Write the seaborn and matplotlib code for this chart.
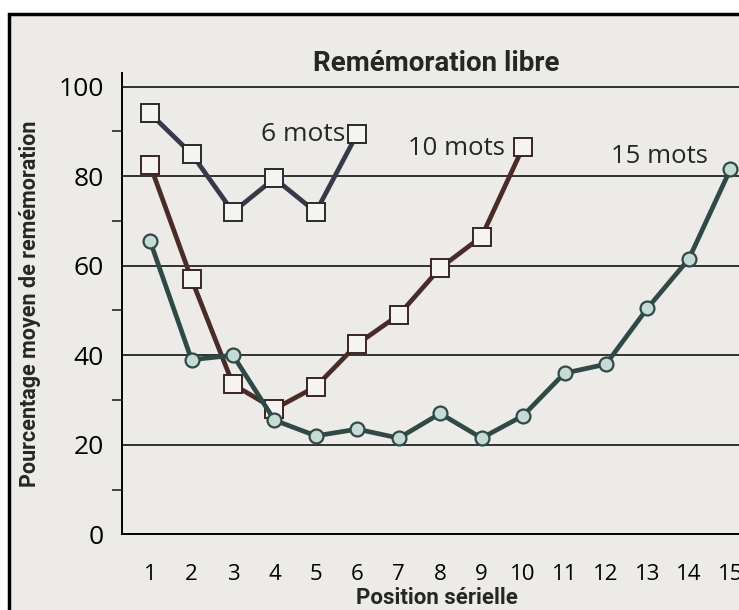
import matplotlib.pyplot as plt
import matplotlib.patches as mpatches
import pandas as pd
import seaborn as sns

# Data (free recall, serial position)
positions_6 = [1, 2, 3, 4, 5, 6]
rappel_6 = [94, 85, 72, 79.5, 72, 89.5]
positions_10 = [1, 2, 3, 4, 5, 6, 7, 8, 9, 10]
rappel_10 = [82.5, 57, 33.5, 28, 33, 42.5, 49, 59.5, 66.5, 86.5]
positions_15 = [1, 2, 3, 4, 5, 6, 7, 8, 9, 10, 11, 12, 13, 14, 15]
rappel_15 = [65.5, 39, 40, 25.5, 22, 23.5, 21.5, 27, 21.5, 26.5, 36, 38, 50.5, 61.5, 81.5]
series_labels = ['6 mots', '10 mots', '15 mots']
x_ticks = list(range(1, 16))
y_ticks = [0, 20, 40, 60, 80, 100]

df = pd.concat([
    pd.DataFrame({'position': positions_6, 'rappel': rappel_6, 'liste': series_labels[0]}),
    pd.DataFrame({'position': positions_10, 'rappel': rappel_10, 'liste': series_labels[1]}),
    pd.DataFrame({'position': positions_15, 'rappel': rappel_15, 'liste': series_labels[2]}),
])

sns.set_style('white')
plt.rcParams['font.family'] = ['Open Sans', 'DejaVu Sans']
bold_font = ['Roboto', 'DejaVu Sans']

fig = plt.figure(figsize=(7.39, 6.10), dpi=100)
fig.patch.set_facecolor('white')
# paper background with black frame (top / left)
fig.patches.append(mpatches.Rectangle((0.0122, -0.02), 1.05, 0.997, transform=fig.transFigure,
                                      facecolor='#ecebe8', edgecolor='black', linewidth=2.5, zorder=-10))

ax = fig.add_axes([0.165, 0.124, 0.84, 0.756])
ax.set_facecolor('none')

styles = {
    '6 mots': dict(color='#363a48', marker='s', markersize=12.5, markerfacecolor='#f5f4f1',
                   markeredgecolor='#2a2a2e', markeredgewidth=1.4),
    '10 mots': dict(color='#4a2b2a', marker='s', markersize=12.5, markerfacecolor='#f5f4f1',
                    markeredgecolor='#3a2424', markeredgewidth=1.4),
    '15 mots': dict(color='#2f4a46', marker='o', markersize=10, markerfacecolor='#c6dbd5',
                    markeredgecolor='#2f4a46', markeredgewidth=1.6),
}
for lab in series_labels:
    sns.lineplot(data=df[df['liste'] == lab], x='position', y='rappel', ax=ax,
                 linewidth=3.4, legend=False, zorder=3, **styles[lab])

# series labels
ax.text(5.72, 89.3, '6 mots', ha='right', va='center', fontsize=19)
ax.text(9.56, 86.2, '10 mots', ha='right', va='center', fontsize=18.5)
ax.text(14.45, 84.3, '15 mots', ha='right', va='center', fontsize=18.5)

ax.set_xlim(0.32, 15.3)
ax.set_ylim(0, 103)
ax.set_xticks(x_ticks)
ax.set_yticks(y_ticks)
ax.set_yticks([10, 30, 50, 70, 90], minor=True)
ax.yaxis.grid(True, which='major', color='black', linewidth=1.1)
ax.set_axisbelow(True)

for s in ['top', 'right']:
    ax.spines[s].set_visible(False)
for s in ['left', 'bottom']:
    ax.spines[s].set_color('black')
    ax.spines[s].set_linewidth(1.4)

ax.tick_params(axis='x', direction='in', length=8, width=1.2, pad=21, labelsize=16, colors='black')
ax.tick_params(axis='y', which='major', direction='out', length=10, width=1.2, pad=3, labelsize=19, colors='black')
ax.tick_params(axis='y', which='minor', direction='out', length=7, width=1.2, left=True)

ax.set_xlabel('Position sérielle', fontsize=16, fontweight='bold', family=bold_font)
ax.set_ylabel('Pourcentage moyen de remémoration', fontsize=15.5, fontweight='bold', family=bold_font)
ax.xaxis.label.set_va('baseline')
ax.xaxis.set_label_coords(0.507, -0.152)
ax.yaxis.set_label_coords(-0.13, 0.5)
ax.text(0.507, 1.022, 'Remémoration libre', transform=ax.transAxes, ha='center', va='center',
        fontsize=20, fontweight='bold', family=bold_font)

fig.savefig('out.png', dpi=100)
